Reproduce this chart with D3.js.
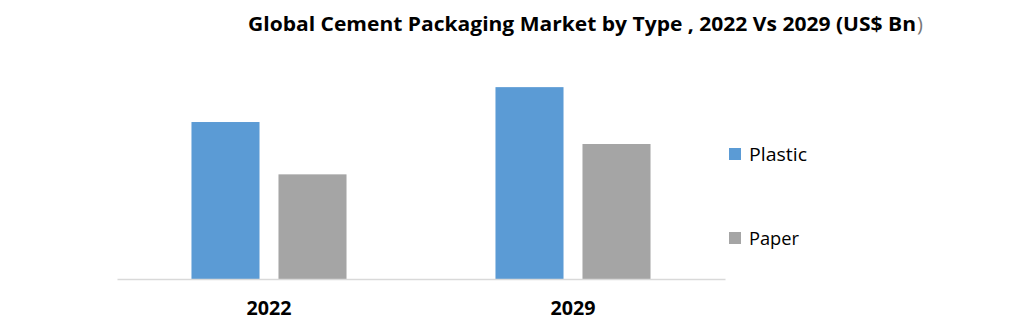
<!DOCTYPE html>
<html>
<head>
<meta charset="utf-8">
<script src="https://cdn.jsdelivr.net/npm/d3@7"></script>
<style>
  html, body { margin: 0; padding: 0; background: #fff; }
  svg { display: block; }
  text { font-family: "Open Sans", "Liberation Sans", sans-serif; fill: #000; }
</style>
</head>
<body>
<svg id="chart" width="1031" height="322"></svg>
<script>
const title = "Global Cement Packaging Market by Type , 2022 Vs 2029 (US$ Bn";
const years = ["2022", "2029"];
const seriesNames = ["Plastic", "Paper"];
const plasticValues = [4.5, 5.5];
const paperValues = [3.0, 3.87];
const colors = ["#5B9BD5", "#A5A5A5"];

const W = 1031, H = 322;
const svg = d3.select("#chart");
const FONT = '"Open Sans", "Liberation Sans", sans-serif';

const data = years.map((y, i) => ({ year: y, values: [plasticValues[i], paperValues[i]] }));

const baseY = 279;
const x0 = d3.scaleBand().domain(years).range([117, 725]).padding(0);
const x1 = d3.scaleBand().domain(seriesNames).range([0, x0.bandwidth()])
  .paddingInner(0.218).paddingOuter(0.856);
const y = d3.scaleLinear().domain([0, 6]).range([baseY, baseY - 209.3]);
const color = d3.scaleOrdinal().domain(seriesNames).range(colors);

// Title
svg.append("text")
  .attr("x", 248).attr("y", 31)
  .attr("font-size", 20).attr("font-weight", "bold")
  .attr("textLength", 668).attr("lengthAdjust", "spacingAndGlyphs")
  .text(title);
svg.append("text")
  .attr("x", 917).attr("y", 31)
  .attr("font-size", 20).attr("font-weight", "normal")
  .style("fill", "#777")
  .text(")");

// Bars
const groups = svg.append("g").selectAll("g")
  .data(data).join("g")
  .attr("transform", d => `translate(${x0(d.year)},0)`);
groups.selectAll("rect")
  .data(d => seriesNames.map((s, i) => ({ key: s, value: d.values[i] })))
  .join("rect")
  .attr("x", d => x1(d.key))
  .attr("y", d => y(d.value))
  .attr("width", x1.bandwidth())
  .attr("height", d => y(0) - y(d.value))
  .attr("fill", d => color(d.key));

// Axis
const xAxis = svg.append("g")
  .attr("transform", `translate(0,${baseY})`)
  .call(d3.axisBottom(x0).tickSize(0).tickPadding(22));
xAxis.select(".domain").attr("stroke", "#D9D9D9").attr("stroke-width", 1.5);
xAxis.selectAll("text")
  .attr("font-size", 20).attr("font-weight", "bold")
  .attr("textLength", 45).attr("lengthAdjust", "spacingAndGlyphs")
  .attr("fill", "#000")
  .style("font-family", FONT);

// Legend
const legendY = [154, 238];
const legendW = [58, 50];
const leg = svg.append("g").selectAll("g")
  .data(seriesNames).join("g")
  .attr("transform", (d, i) => `translate(729,${legendY[i]})`);
leg.append("rect")
  .attr("x", 0).attr("y", -6).attr("width", 12).attr("height", 12)
  .attr("fill", d => color(d));
leg.append("text")
  .attr("x", 20).attr("y", 7)
  .attr("font-size", 19)
  .attr("textLength", (d, i) => legendW[i]).attr("lengthAdjust", "spacingAndGlyphs")
  .text(d => d);
</script>
</body>
</html>
